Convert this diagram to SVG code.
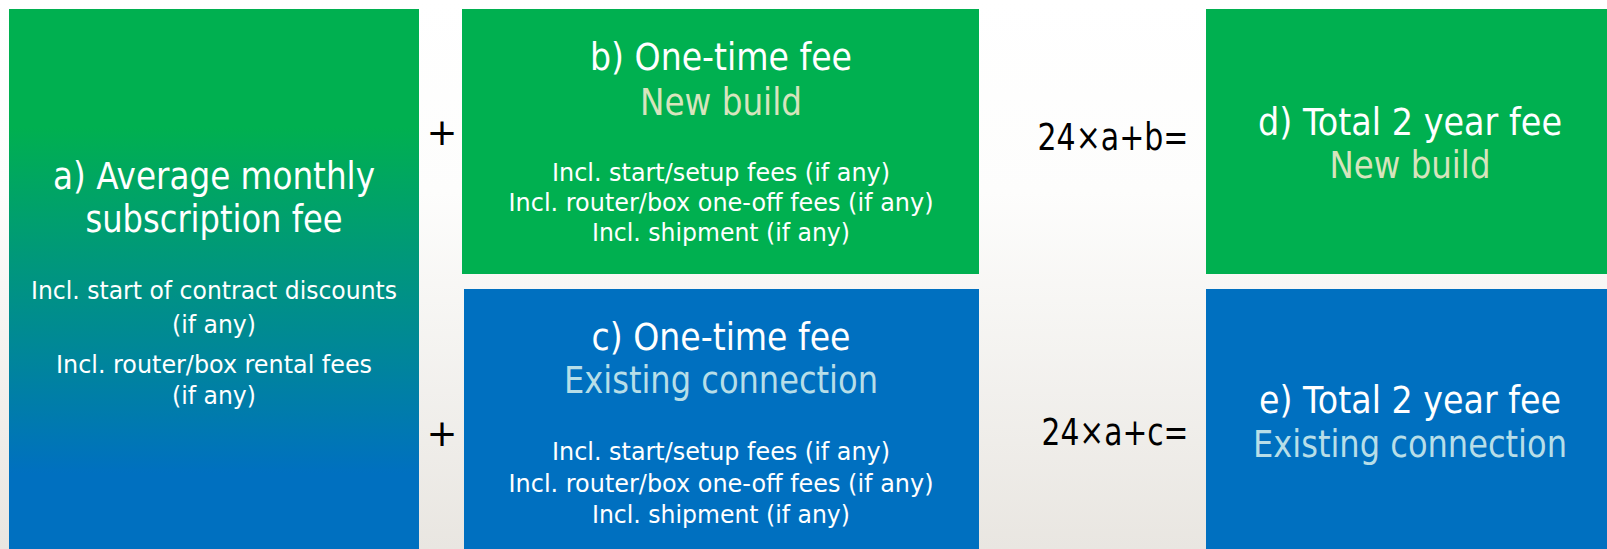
<svg xmlns="http://www.w3.org/2000/svg" width="1607" height="549" viewBox="0 0 1607 549">
<defs>
<linearGradient id="bg" x1="0" y1="0" x2="0" y2="1">
<stop offset="0" stop-color="#ffffff"/>
<stop offset="0.35" stop-color="#fdfdfc"/>
<stop offset="1" stop-color="#e9e6e1"/>
</linearGradient>
<linearGradient id="ga" gradientUnits="userSpaceOnUse" x1="0" y1="9" x2="0" y2="549">
<stop offset="0.22" stop-color="#00b050"/>
<stop offset="0.86" stop-color="#0070c0"/>
</linearGradient>
<style>
.t{font-family:"DejaVu Sans","Liberation Sans",sans-serif;text-anchor:middle;fill:#ffffff}
.h{font-size:37px}
.s{font-size:25px}
.ng{fill:#d7e4bd}
.nb{fill:#b7dee8}
.op{font-family:"DejaVu Sans","Liberation Sans",sans-serif;fill:#000000;font-size:37px;text-anchor:middle}
.green{fill:#00b050}
.blue{fill:#0070c0}
</style>
</defs>
<rect x="0" y="0" width="1607" height="549" fill="url(#bg)"/>
<g id="node-a">
<rect x="9" y="9" width="410" height="540" fill="url(#ga)"/>
<text class="t h" x="214" y="189" textLength="322" lengthAdjust="spacingAndGlyphs">a) Average monthly</text>
<text class="t h" x="214" y="232" textLength="257" lengthAdjust="spacingAndGlyphs">subscription fee</text>
<text class="t s" x="214" y="299" textLength="366" lengthAdjust="spacingAndGlyphs">Incl. start of contract discounts</text>
<text class="t s" x="214" y="333" textLength="84" lengthAdjust="spacingAndGlyphs">(if any)</text>
<text class="t s" x="214" y="373" textLength="316" lengthAdjust="spacingAndGlyphs">Incl. router/box rental fees</text>
<text class="t s" x="214" y="404" textLength="84" lengthAdjust="spacingAndGlyphs">(if any)</text>
</g>
<g id="node-b">
<rect class="green" x="462" y="9" width="517" height="265"/>
<text class="t h" x="721" y="70" textLength="262" lengthAdjust="spacingAndGlyphs">b) One-time fee</text>
<text class="t h ng" x="721" y="115" textLength="162" lengthAdjust="spacingAndGlyphs">New build</text>
<text class="t s" x="721" y="181" textLength="338" lengthAdjust="spacingAndGlyphs">Incl. start/setup fees (if any)</text>
<text class="t s" x="721" y="211" textLength="425" lengthAdjust="spacingAndGlyphs">Incl. router/box one-off fees (if any)</text>
<text class="t s" x="721" y="241" textLength="258" lengthAdjust="spacingAndGlyphs">Incl. shipment (if any)</text>
</g>
<g id="node-c">
<rect class="blue" x="464" y="289" width="515" height="260"/>
<text class="t h" x="721" y="350" textLength="259" lengthAdjust="spacingAndGlyphs">c) One-time fee</text>
<text class="t h nb" x="721" y="393" textLength="314" lengthAdjust="spacingAndGlyphs">Existing connection</text>
<text class="t s" x="721" y="460" textLength="338" lengthAdjust="spacingAndGlyphs">Incl. start/setup fees (if any)</text>
<text class="t s" x="721" y="492" textLength="425" lengthAdjust="spacingAndGlyphs">Incl. router/box one-off fees (if any)</text>
<text class="t s" x="721" y="523" textLength="258" lengthAdjust="spacingAndGlyphs">Incl. shipment (if any)</text>
</g>
<g id="node-d">
<rect class="green" x="1206" y="9" width="401" height="265"/>
<text class="t h" x="1410" y="135" textLength="304" lengthAdjust="spacingAndGlyphs">d) Total 2 year fee</text>
<text class="t h ng" x="1410" y="178" textLength="161" lengthAdjust="spacingAndGlyphs">New build</text>
</g>
<g id="node-e">
<rect class="blue" x="1206" y="289" width="401" height="260"/>
<text class="t h" x="1410" y="413" textLength="302" lengthAdjust="spacingAndGlyphs">e) Total 2 year fee</text>
<text class="t h nb" x="1410" y="457" font-size="35" textLength="314" lengthAdjust="spacingAndGlyphs">Existing connection</text>
</g>
<g id="connectors">
<text class="op" x="442" y="145">+</text>
<text class="op" x="442" y="446">+</text>
<text class="op" x="1113" y="150" textLength="151" lengthAdjust="spacingAndGlyphs">24×a+b=</text>
<text class="op" x="1115" y="445" textLength="147" lengthAdjust="spacingAndGlyphs">24×a+c=</text>
</g>
</svg>
